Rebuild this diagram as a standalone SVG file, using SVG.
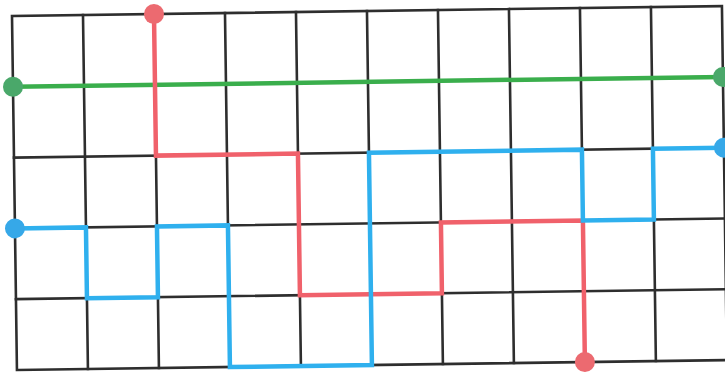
<svg xmlns="http://www.w3.org/2000/svg" width="725" height="374" viewBox="0 0 725 374">
<style>
.grid{stroke:#2e2e2e;stroke-width:2.6;fill:none;stroke-linecap:square}
.path{fill:none;stroke-width:4.5;stroke-linejoin:miter;stroke-linecap:butt}
.red{stroke:#f0616b}
.green{stroke:#3aae4c}
.blue{stroke:#2fb0ee}
.dr{fill:#ec6a70}
.dg{fill:#4aa86a}
.db{fill:#36a8e8}
</style>
<rect width="725" height="374" fill="#ffffff"/>
<g transform="translate(12,16) rotate(-0.8)">
<g id="grid" class="grid">
<rect x="0" y="0" width="710" height="354"/>
<path d="M71 0V354M142 0V354M213 0V354M284 0V354M355 0V354M426 0V354M497 0V354M568 0V354M639 0V354"/>
<path d="M0 70.8H710M0 141.6H710M0 212.4H710M0 283.2H710"/>
</g>
<g id="connectors">
<path id="green-path" class="path green" d="M0 70.8H710"/>
<path id="red-path" class="path red" d="M142 0V141.6H284V283.2H426V212.4H568V354"/>
<path id="blue-path" class="path blue" d="M0 212.4H71V283.2H142V212.4H213V354H355V141.6H568V212.4H639V141.6H710"/>
</g>
<g id="endpoints">
<circle class="dg" cx="0" cy="70.8" r="10"/>
<circle class="dg" cx="710" cy="70.8" r="10"/>
<circle class="dr" cx="142" cy="0" r="10"/>
<circle class="dr" cx="568" cy="354" r="10"/>
<circle class="db" cx="0" cy="212.4" r="10"/>
<circle class="db" cx="710" cy="141.6" r="10"/>
</g>
</g>
</svg>
